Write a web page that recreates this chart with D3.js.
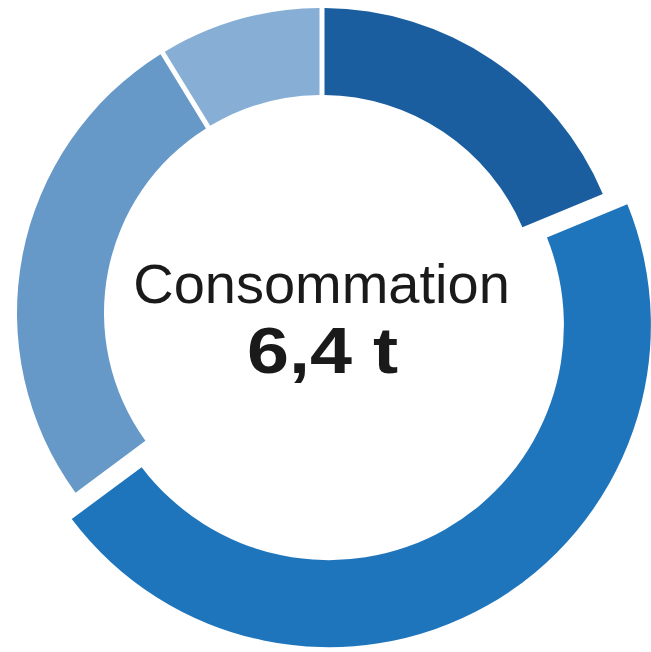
<!DOCTYPE html>
<html>
<head>
<meta charset="utf-8">
<script src="https://cdn.jsdelivr.net/npm/d3@7"></script>
<style>
  html, body { margin: 0; padding: 0; background: #ffffff; }
  svg { display: block; }
</style>
</head>
<body>
<svg id="chart" width="651" height="652"></svg>
<script>
// ---- data ----
const categories = ["Poste 1", "Poste 2", "Poste 3", "Poste 4"];
const values = [1.2, 2.95, 1.69, 0.56];
const colors = ["#1a5e9f", "#1f75bc", "#6699c7", "#87afd6"];
const selectedIndex = 1;
const centerTitle = "Consommation";
const centerValue = "6,4 t";

// ---- layout ----
const width = 651, height = 652;
const cx = 322, cy = 313;
const outerR = 305, innerR = 218;
const gap = 5;              // linear gap between slices
const selGrow = 17;         // extra radius of selected slice
const selOffset = 14;       // offset of selected slice along its bisector

const svg = d3.select("#chart");

const data = categories.map((c, i) => ({ category: c, value: values[i], color: colors[i] }));

const pie = d3.pie()
  .sort(null)
  .value(d => d.value)
  .startAngle(0)
  .endAngle(2 * Math.PI);

const arcs = pie(data);

const arcNormal = d3.arc()
  .innerRadius(innerR)
  .outerRadius(outerR)
  .padRadius(outerR)
  .padAngle(gap / outerR);

const arcSel = d3.arc()
  .innerRadius(innerR + selGrow)
  .outerRadius(outerR + selGrow)
  .padRadius(outerR + selGrow)
  .padAngle(gap / (outerR + selGrow));

const g = svg.append("g").attr("transform", `translate(${cx},${cy})`);

g.selectAll("path.slice")
  .data(arcs)
  .join("path")
  .attr("class", "slice")
  .attr("fill", d => d.data.color)
  .attr("d", (d, i) => (i === selectedIndex ? arcSel(d) : arcNormal(d)))
  .attr("transform", (d, i) => {
    if (i !== selectedIndex) return null;
    const mid = (d.startAngle + d.endAngle) / 2;
    return `translate(${selOffset * Math.sin(mid)},${-selOffset * Math.cos(mid)})`;
  });

// ---- centre text ----
svg.append("text")
  .attr("x", 321.5)
  .attr("y", 303)
  .attr("text-anchor", "middle")
  .attr("font-family", "'Liberation Sans', Arial, sans-serif")
  .attr("font-size", 56)
  .attr("fill", "#1a1a1a")
  .text(centerTitle);

svg.append("text")
  .attr("text-anchor", "middle")
  .attr("font-family", "'Liberation Sans', Arial, sans-serif")
  .attr("font-weight", "bold")
  .attr("font-size", 64)
  .attr("fill", "#1a1a1a")
  .attr("transform", "translate(322.5,373) scale(1.18,1)")
  .text(centerValue);
</script>
</body>
</html>
